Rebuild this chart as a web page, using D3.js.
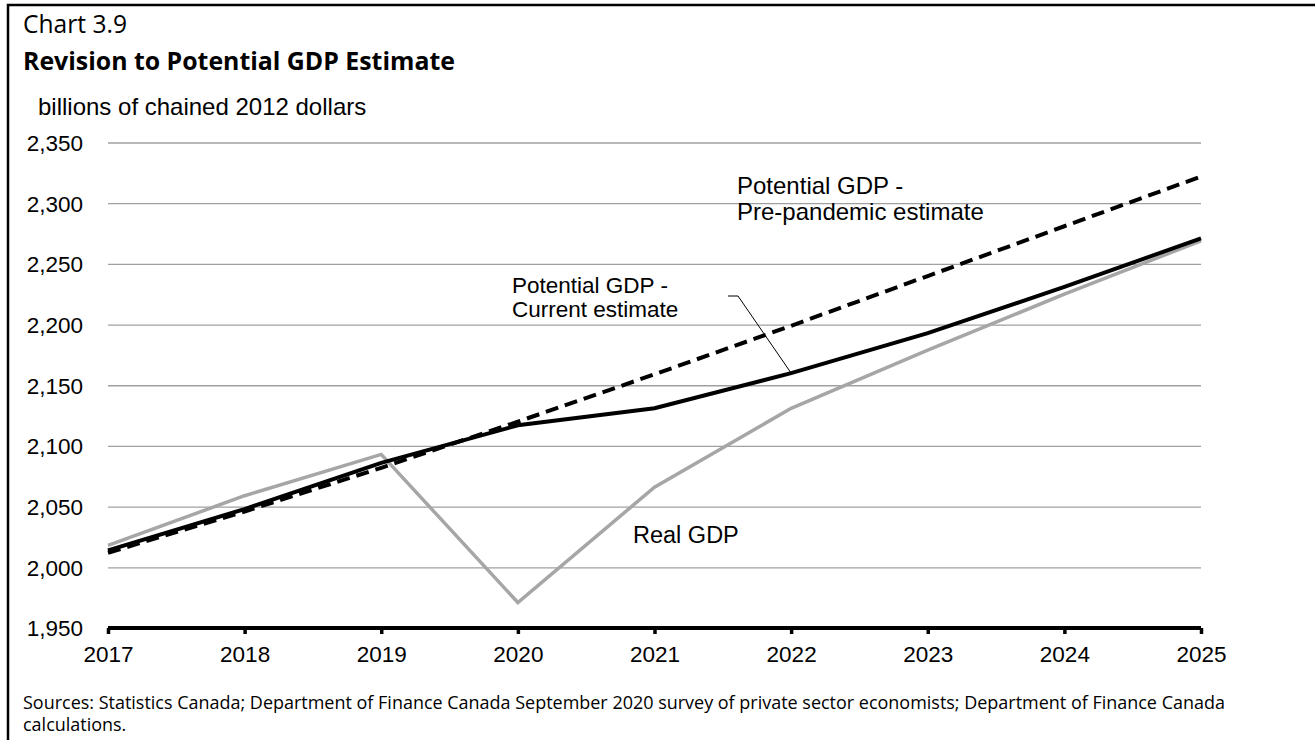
<!DOCTYPE html>
<html><head><meta charset="utf-8">
<script src="https://cdn.jsdelivr.net/npm/d3@7"></script>
<style>
html,body{margin:0;padding:0;background:#fff;}
svg{display:block;}
</style></head>
<body>
<svg id="chart" width="1315" height="740"></svg>
<script>
const years = [2017, 2018, 2019, 2020, 2021, 2022, 2023, 2024, 2025];
const realGDP = [2018, 2059, 2093, 1971, 2066, 2131, 2179, 2225, 2269];
const potentialCurrent = [2014, 2048, 2086, 2117, 2131, 2160, 2193, 2231, 2271];
const potentialPre = [2012, 2046, 2082, 2120, 2159, 2199, 2240, 2281, 2322];
const yTicks = [1950, 2000, 2050, 2100, 2150, 2200, 2250, 2300, 2350];

const svg = d3.select("#chart");
const x = d3.scaleLinear().domain([2017, 2025]).range([108, 1201]);
const y = d3.scaleLinear().domain([1950, 2350]).range([628, 142.5]);
const fmt = d3.format(",");
const arial = "'Liberation Sans', Arial, sans-serif";
const segoe = "'Open Sans', 'Noto Sans', sans-serif";

function fitWidth(sel, target) {
  const w = sel.node().getComputedTextLength();
  if (w > 0) sel.attr("font-size", (+sel.attr("font-size")) * target / w);
}

// frame
svg.append("path").attr("d", "M8,740V5H1315").attr("fill", "none")
  .attr("stroke", "#000").attr("stroke-width", 2.5);

// titles
const t1 = svg.append("text").attr("x", 23).attr("y", 33).attr("font-family", segoe)
  .attr("font-size", 21).attr("fill", "#000").text("Chart 3.9");
fitWidth(t1, 104);
const t2 = svg.append("text").attr("x", 23).attr("y", 70).attr("font-family", segoe)
  .attr("font-size", 21).attr("font-weight", "bold").attr("fill", "#000")
  .text("Revision to Potential GDP Estimate");
fitWidth(t2, 432);
svg.append("text").attr("x", 38).attr("y", 115).attr("font-family", arial)
  .attr("font-size", 24).attr("fill", "#000").text("billions of chained 2012 dollars");

// gridlines + y axis
const yAxis = d3.axisLeft(y).tickValues(yTicks).tickFormat(fmt)
  .tickSize(-(x.range()[1] - x.range()[0])).tickPadding(25);
const gy = svg.append("g").attr("transform", `translate(${x.range()[0]},0)`).call(yAxis);
gy.select(".domain").remove();
gy.selectAll(".tick line").attr("stroke", "#a0a0a0").attr("stroke-width", 1.3);
gy.selectAll(".tick text").attr("font-family", arial).attr("font-size", 22.5)
  .attr("fill", "#000").attr("dy", "0.35em");
gy.selectAll(".tick").filter(d => d === 1950).select("line").remove();

// x axis
const xAxis = d3.axisBottom(x).tickValues(years).tickFormat(d3.format("d"))
  .tickSize(6).tickSizeOuter(0).tickPadding(12);
const gx = svg.append("g").attr("transform", `translate(0,${y(1950)})`).call(xAxis);
gx.select(".domain").attr("stroke", "#000").attr("stroke-width", 4)
  .attr("d", `M${x.range()[0]},0H${x.range()[1]}`);
gx.selectAll(".tick line").attr("stroke", "#000").attr("stroke-width", 3.5);
gx.selectAll(".tick text").attr("font-family", arial).attr("font-size", 22.5).attr("fill", "#000");

// lines
const line = d3.line().x((d, i) => x(years[i])).y(d => y(d));
svg.append("path").datum(realGDP).attr("d", line).attr("fill", "none")
  .attr("stroke", "#a6a6a6").attr("stroke-width", 3.5);
svg.append("path").datum(potentialCurrent).attr("d", line).attr("fill", "none")
  .attr("stroke", "#000").attr("stroke-width", 4);
svg.append("path").datum(potentialPre).attr("d", line).attr("fill", "none")
  .attr("stroke", "#000").attr("stroke-width", 4).attr("stroke-dasharray", "13,7");

// labels
function label(tx, ty, lines, gap, size) {
  const t = svg.append("text").attr("font-family", arial).attr("font-size", size).attr("fill", "#000");
  lines.forEach((s, i) => t.append("tspan").attr("x", tx).attr("y", ty + i * gap).text(s));
}
label(737, 194, ["Potential GDP -", "Pre-pandemic estimate"], 26, 24);
label(512, 293, ["Potential GDP -", "Current estimate"], 24, 22.5);
label(633, 543, ["Real GDP"], 0, 23.5);

// leader line
svg.append("path")
  .attr("d", `M728,296H738L${x(2022)},${y(potentialCurrent[5])}`)
  .attr("fill", "none").attr("stroke", "#000").attr("stroke-width", 1);

// footer
const f1 = svg.append("text").attr("x", 23).attr("y", 709).attr("font-family", segoe)
  .attr("font-size", 16.5).attr("fill", "#000")
  .text("Sources: Statistics Canada; Department of Finance Canada September 2020 survey of private sector economists; Department of Finance Canada");
fitWidth(f1, 1202);
svg.append("text").attr("x", 23).attr("y", 731).attr("font-family", segoe)
  .attr("font-size", f1.attr("font-size")).attr("fill", "#000").text("calculations.");
</script>
</body></html>
